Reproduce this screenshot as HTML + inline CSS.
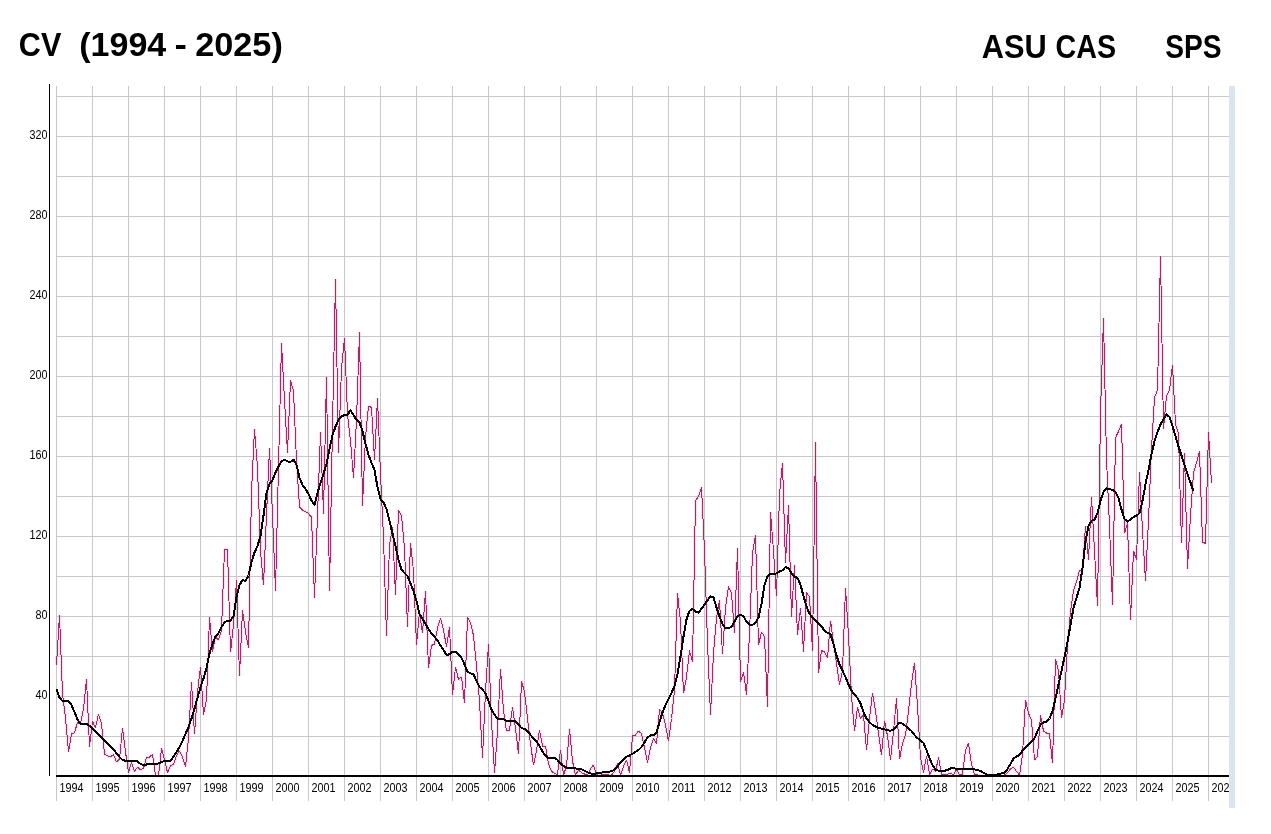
<!DOCTYPE html>
<html><head><meta charset="utf-8"><title>CV (1994 - 2025)</title>
<style>
html,body{margin:0;padding:0;background:#fff;}
body{width:1271px;height:834px;overflow:hidden;font-family:"Liberation Sans",sans-serif;}
svg{display:block;will-change:transform;}
.t{font-family:"Liberation Sans",sans-serif;font-weight:bold;fill:#000;}
.a{font-family:"Liberation Sans",sans-serif;font-size:12px;fill:#000;}
</style></head><body>
<svg width="1271" height="834" viewBox="0 0 1271 834">
<rect x="0" y="0" width="1271" height="834" fill="#ffffff"/>
<rect x="1229" y="86" width="6" height="722" fill="#dbe5f1"/>
<path d="M56.5 665.0 L59.5 615.0 L62.5 694.0 L65.5 718.0 L68.5 752.0 L71.5 734.0 L74.5 732.7 L77.5 722.5 L80.5 724.0 L83.5 709.0 L86.5 679.0 L89.5 746.5 L92.5 721.5 L95.5 727.7 L98.5 714.0 L101.5 724.0 L104.5 754.0 L107.5 755.8 L110.5 757.0 L113.5 754.3 L116.5 762.0 L119.5 759.0 L122.5 728.4 L125.5 752.0 L128.5 772.6 L131.5 762.0 L134.5 771.4 L137.5 767.0 L140.5 770.0 L143.5 768.3 L146.5 757.7 L149.5 757.0 L152.5 754.3 L155.5 775.0 L158.5 775.8 L161.5 748.3 L164.5 759.5 L167.5 772.6 L170.5 765.8 L173.5 764.5 L176.5 755.8 L179.5 750.8 L182.5 757.0 L185.5 766.4 L188.5 738.3 L191.5 681.6 L194.5 734.4 L197.5 692.0 L200.5 667.0 L203.5 714.6 L206.5 700.0 L209.5 617.3 L212.5 651.7 L215.5 636.7 L218.5 640.0 L221.5 630.0 L224.5 549.3 L227.5 549.3 L230.5 652.3 L233.5 625.0 L236.5 580.4 L239.5 676.0 L242.5 610.4 L245.5 632.0 L248.5 647.5 L251.5 492.0 L254.5 429.2 L257.5 467.5 L260.5 551.0 L263.5 585.2 L266.5 515.0 L269.5 448.5 L272.5 515.0 L275.5 590.6 L278.5 466.7 L281.5 343.0 L284.5 400.0 L287.5 452.6 L290.5 380.3 L293.5 391.0 L296.5 461.0 L299.5 506.8 L302.5 510.0 L305.5 511.8 L308.5 513.4 L311.5 517.3 L314.5 597.5 L317.5 515.0 L320.5 432.5 L323.5 513.5 L326.5 377.0 L329.5 591.2 L332.5 425.0 L335.5 278.8 L338.5 453.0 L341.5 368.0 L344.5 338.0 L347.5 414.5 L350.5 441.0 L353.5 477.5 L356.5 420.0 L359.5 332.5 L362.5 506.0 L365.5 437.0 L368.5 406.0 L371.5 407.6 L374.5 460.0 L377.5 398.5 L380.5 474.0 L383.5 537.0 L386.5 636.0 L389.5 545.0 L392.5 527.0 L395.5 595.0 L398.5 510.5 L401.5 515.6 L404.5 548.0 L407.5 627.0 L410.5 543.3 L413.5 571.0 L416.5 645.0 L419.5 612.0 L422.5 633.0 L425.5 591.4 L428.5 668.0 L431.5 645.5 L434.5 644.0 L437.5 628.0 L440.5 618.3 L443.5 630.0 L446.5 646.8 L449.5 626.6 L452.5 695.0 L455.5 667.0 L458.5 679.5 L461.5 677.0 L464.5 703.4 L467.5 617.3 L470.5 623.0 L473.5 635.5 L476.5 665.7 L479.5 701.0 L482.5 757.6 L485.5 691.0 L488.5 644.3 L491.5 721.0 L494.5 772.7 L497.5 731.0 L500.5 668.7 L503.5 711.0 L506.5 731.0 L509.5 730.0 L512.5 707.0 L515.5 728.6 L518.5 753.8 L521.5 680.8 L524.5 692.0 L527.5 718.5 L530.5 743.7 L533.5 765.0 L536.5 751.0 L539.5 730.0 L542.5 746.0 L545.5 746.0 L548.5 763.9 L551.5 771.4 L554.5 773.4 L557.5 774.5 L560.5 750.0 L563.5 775.0 L566.5 766.0 L569.5 728.6 L572.5 761.0 L575.5 775.0 L578.5 770.0 L581.5 772.7 L584.5 774.0 L587.5 775.0 L590.5 769.0 L593.5 765.0 L596.5 775.0 L599.5 773.4 L602.5 774.4 L605.5 774.4 L608.5 775.0 L611.5 775.0 L614.5 771.4 L617.5 763.3 L620.5 775.0 L623.5 766.4 L626.5 760.0 L629.5 772.7 L632.5 736.0 L635.5 735.0 L638.5 731.0 L641.5 733.6 L644.5 747.5 L647.5 762.6 L650.5 747.5 L653.5 738.4 L656.5 743.7 L659.5 709.7 L662.5 712.5 L665.5 725.0 L668.5 741.1 L671.5 718.5 L674.5 690.0 L677.5 593.2 L680.5 622.0 L683.5 693.4 L686.5 677.0 L689.5 650.6 L692.5 662.0 L695.5 500.4 L698.5 496.6 L701.5 487.3 L704.5 550.0 L707.5 643.0 L710.5 714.5 L713.5 653.0 L716.5 618.0 L719.5 600.5 L722.5 654.3 L725.5 607.8 L728.5 586.6 L731.5 593.5 L734.5 633.0 L737.5 547.8 L740.5 682.0 L743.5 672.0 L746.5 694.6 L749.5 633.0 L752.5 553.3 L755.5 535.2 L758.5 645.0 L761.5 632.0 L764.5 636.5 L767.5 707.2 L770.5 511.8 L773.5 550.8 L776.5 596.0 L779.5 494.0 L782.5 462.7 L785.5 563.0 L788.5 505.0 L791.5 617.0 L794.5 564.6 L797.5 635.0 L800.5 608.2 L803.5 651.5 L806.5 592.5 L809.5 597.0 L812.5 650.6 L815.5 442.5 L818.5 673.2 L821.5 650.6 L824.5 651.8 L827.5 658.0 L830.5 620.6 L833.5 643.0 L836.5 663.0 L839.5 684.6 L842.5 670.7 L845.5 588.2 L848.5 635.5 L851.5 696.0 L854.5 731.0 L857.5 707.2 L860.5 718.5 L863.5 714.8 L866.5 750.0 L869.5 718.5 L872.5 693.4 L875.5 711.0 L878.5 733.6 L881.5 755.0 L884.5 720.6 L887.5 736.0 L890.5 760.0 L893.5 731.0 L896.5 698.4 L899.5 759.3 L902.5 743.7 L905.5 735.0 L908.5 711.0 L911.5 683.3 L914.5 662.6 L917.5 706.0 L920.5 757.6 L923.5 772.7 L926.5 756.3 L929.5 774.4 L932.5 769.0 L935.5 771.4 L938.5 757.6 L941.5 774.0 L944.5 775.0 L947.5 774.4 L950.5 773.0 L953.5 775.0 L956.5 769.5 L959.5 775.0 L962.5 774.0 L965.5 750.5 L968.5 743.0 L971.5 764.0 L974.5 774.4 L977.5 775.0 L980.5 775.0 L983.5 775.0 L986.5 775.0 L989.5 775.0 L992.5 775.0 L995.5 775.0 L998.5 775.0 L1001.5 775.0 L1004.5 775.0 L1007.5 772.7 L1010.5 769.0 L1013.5 767.0 L1016.5 771.4 L1019.5 775.0 L1022.5 755.0 L1025.5 699.7 L1028.5 713.5 L1031.5 720.0 L1034.5 760.0 L1037.5 756.3 L1040.5 715.5 L1043.5 731.0 L1046.5 733.0 L1049.5 733.6 L1052.5 763.4 L1055.5 659.4 L1058.5 670.7 L1061.5 718.0 L1064.5 699.7 L1067.5 645.5 L1070.5 612.0 L1073.5 591.0 L1076.5 581.5 L1079.5 570.6 L1082.5 571.0 L1085.5 525.8 L1088.5 560.0 L1091.5 496.8 L1094.5 551.0 L1097.5 606.4 L1100.5 412.0 L1103.5 318.0 L1106.5 459.0 L1109.5 525.8 L1112.5 605.1 L1115.5 438.0 L1118.5 431.3 L1121.5 424.0 L1124.5 533.4 L1127.5 523.3 L1130.5 620.3 L1133.5 551.0 L1136.5 559.8 L1139.5 471.6 L1142.5 530.8 L1145.5 581.2 L1148.5 520.0 L1151.5 449.0 L1154.5 397.4 L1157.5 390.0 L1160.5 256.4 L1163.5 429.0 L1166.5 396.0 L1169.5 390.0 L1172.5 364.7 L1175.5 424.0 L1178.5 434.0 L1181.5 543.4 L1184.5 452.7 L1187.5 568.6 L1190.5 515.7 L1193.5 472.9 L1196.5 462.8 L1199.5 451.5 L1202.5 542.2 L1205.5 543.4 L1208.5 432.0 L1211.5 483.0" stroke="#ffdcee" stroke-width="3" fill="none" stroke-linejoin="bevel" shape-rendering="crispEdges"/>
<path d="M56.5 86V801M92.5 86V801M128.5 86V801M164.5 86V801M200.5 86V801M236.5 86V801M272.5 86V801M308.5 86V801M344.5 86V801M380.5 86V801M416.5 86V801M452.5 86V801M488.5 86V801M524.5 86V801M560.5 86V801M596.5 86V801M632.5 86V801M668.5 86V801M704.5 86V801M740.5 86V801M776.5 86V801M812.5 86V801M848.5 86V801M884.5 86V801M920.5 86V801M956.5 86V801M992.5 86V801M1028.5 86V801M1064.5 86V801M1100.5 86V801M1136.5 86V801M1172.5 86V801M1208.5 86V801M56 96.5H1229M56 136.5H1229M56 176.5H1229M56 216.5H1229M56 256.5H1229M56 296.5H1229M56 336.5H1229M56 376.5H1229M56 416.5H1229M56 456.5H1229M56 496.5H1229M56 536.5H1229M56 576.5H1229M56 616.5H1229M56 656.5H1229M56 696.5H1229M56 736.5H1229" stroke="#c8c8c8" stroke-width="1" fill="none" shape-rendering="crispEdges"/>
<path d="M56.5 665.0 L59.5 615.0 L62.5 694.0 L65.5 718.0 L68.5 752.0 L71.5 734.0 L74.5 732.7 L77.5 722.5 L80.5 724.0 L83.5 709.0 L86.5 679.0 L89.5 746.5 L92.5 721.5 L95.5 727.7 L98.5 714.0 L101.5 724.0 L104.5 754.0 L107.5 755.8 L110.5 757.0 L113.5 754.3 L116.5 762.0 L119.5 759.0 L122.5 728.4 L125.5 752.0 L128.5 772.6 L131.5 762.0 L134.5 771.4 L137.5 767.0 L140.5 770.0 L143.5 768.3 L146.5 757.7 L149.5 757.0 L152.5 754.3 L155.5 775.0 L158.5 775.8 L161.5 748.3 L164.5 759.5 L167.5 772.6 L170.5 765.8 L173.5 764.5 L176.5 755.8 L179.5 750.8 L182.5 757.0 L185.5 766.4 L188.5 738.3 L191.5 681.6 L194.5 734.4 L197.5 692.0 L200.5 667.0 L203.5 714.6 L206.5 700.0 L209.5 617.3 L212.5 651.7 L215.5 636.7 L218.5 640.0 L221.5 630.0 L224.5 549.3 L227.5 549.3 L230.5 652.3 L233.5 625.0 L236.5 580.4 L239.5 676.0 L242.5 610.4 L245.5 632.0 L248.5 647.5 L251.5 492.0 L254.5 429.2 L257.5 467.5 L260.5 551.0 L263.5 585.2 L266.5 515.0 L269.5 448.5 L272.5 515.0 L275.5 590.6 L278.5 466.7 L281.5 343.0 L284.5 400.0 L287.5 452.6 L290.5 380.3 L293.5 391.0 L296.5 461.0 L299.5 506.8 L302.5 510.0 L305.5 511.8 L308.5 513.4 L311.5 517.3 L314.5 597.5 L317.5 515.0 L320.5 432.5 L323.5 513.5 L326.5 377.0 L329.5 591.2 L332.5 425.0 L335.5 278.8 L338.5 453.0 L341.5 368.0 L344.5 338.0 L347.5 414.5 L350.5 441.0 L353.5 477.5 L356.5 420.0 L359.5 332.5 L362.5 506.0 L365.5 437.0 L368.5 406.0 L371.5 407.6 L374.5 460.0 L377.5 398.5 L380.5 474.0 L383.5 537.0 L386.5 636.0 L389.5 545.0 L392.5 527.0 L395.5 595.0 L398.5 510.5 L401.5 515.6 L404.5 548.0 L407.5 627.0 L410.5 543.3 L413.5 571.0 L416.5 645.0 L419.5 612.0 L422.5 633.0 L425.5 591.4 L428.5 668.0 L431.5 645.5 L434.5 644.0 L437.5 628.0 L440.5 618.3 L443.5 630.0 L446.5 646.8 L449.5 626.6 L452.5 695.0 L455.5 667.0 L458.5 679.5 L461.5 677.0 L464.5 703.4 L467.5 617.3 L470.5 623.0 L473.5 635.5 L476.5 665.7 L479.5 701.0 L482.5 757.6 L485.5 691.0 L488.5 644.3 L491.5 721.0 L494.5 772.7 L497.5 731.0 L500.5 668.7 L503.5 711.0 L506.5 731.0 L509.5 730.0 L512.5 707.0 L515.5 728.6 L518.5 753.8 L521.5 680.8 L524.5 692.0 L527.5 718.5 L530.5 743.7 L533.5 765.0 L536.5 751.0 L539.5 730.0 L542.5 746.0 L545.5 746.0 L548.5 763.9 L551.5 771.4 L554.5 773.4 L557.5 774.5 L560.5 750.0 L563.5 775.0 L566.5 766.0 L569.5 728.6 L572.5 761.0 L575.5 775.0 L578.5 770.0 L581.5 772.7 L584.5 774.0 L587.5 775.0 L590.5 769.0 L593.5 765.0 L596.5 775.0 L599.5 773.4 L602.5 774.4 L605.5 774.4 L608.5 775.0 L611.5 775.0 L614.5 771.4 L617.5 763.3 L620.5 775.0 L623.5 766.4 L626.5 760.0 L629.5 772.7 L632.5 736.0 L635.5 735.0 L638.5 731.0 L641.5 733.6 L644.5 747.5 L647.5 762.6 L650.5 747.5 L653.5 738.4 L656.5 743.7 L659.5 709.7 L662.5 712.5 L665.5 725.0 L668.5 741.1 L671.5 718.5 L674.5 690.0 L677.5 593.2 L680.5 622.0 L683.5 693.4 L686.5 677.0 L689.5 650.6 L692.5 662.0 L695.5 500.4 L698.5 496.6 L701.5 487.3 L704.5 550.0 L707.5 643.0 L710.5 714.5 L713.5 653.0 L716.5 618.0 L719.5 600.5 L722.5 654.3 L725.5 607.8 L728.5 586.6 L731.5 593.5 L734.5 633.0 L737.5 547.8 L740.5 682.0 L743.5 672.0 L746.5 694.6 L749.5 633.0 L752.5 553.3 L755.5 535.2 L758.5 645.0 L761.5 632.0 L764.5 636.5 L767.5 707.2 L770.5 511.8 L773.5 550.8 L776.5 596.0 L779.5 494.0 L782.5 462.7 L785.5 563.0 L788.5 505.0 L791.5 617.0 L794.5 564.6 L797.5 635.0 L800.5 608.2 L803.5 651.5 L806.5 592.5 L809.5 597.0 L812.5 650.6 L815.5 442.5 L818.5 673.2 L821.5 650.6 L824.5 651.8 L827.5 658.0 L830.5 620.6 L833.5 643.0 L836.5 663.0 L839.5 684.6 L842.5 670.7 L845.5 588.2 L848.5 635.5 L851.5 696.0 L854.5 731.0 L857.5 707.2 L860.5 718.5 L863.5 714.8 L866.5 750.0 L869.5 718.5 L872.5 693.4 L875.5 711.0 L878.5 733.6 L881.5 755.0 L884.5 720.6 L887.5 736.0 L890.5 760.0 L893.5 731.0 L896.5 698.4 L899.5 759.3 L902.5 743.7 L905.5 735.0 L908.5 711.0 L911.5 683.3 L914.5 662.6 L917.5 706.0 L920.5 757.6 L923.5 772.7 L926.5 756.3 L929.5 774.4 L932.5 769.0 L935.5 771.4 L938.5 757.6 L941.5 774.0 L944.5 775.0 L947.5 774.4 L950.5 773.0 L953.5 775.0 L956.5 769.5 L959.5 775.0 L962.5 774.0 L965.5 750.5 L968.5 743.0 L971.5 764.0 L974.5 774.4 L977.5 775.0 L980.5 775.0 L983.5 775.0 L986.5 775.0 L989.5 775.0 L992.5 775.0 L995.5 775.0 L998.5 775.0 L1001.5 775.0 L1004.5 775.0 L1007.5 772.7 L1010.5 769.0 L1013.5 767.0 L1016.5 771.4 L1019.5 775.0 L1022.5 755.0 L1025.5 699.7 L1028.5 713.5 L1031.5 720.0 L1034.5 760.0 L1037.5 756.3 L1040.5 715.5 L1043.5 731.0 L1046.5 733.0 L1049.5 733.6 L1052.5 763.4 L1055.5 659.4 L1058.5 670.7 L1061.5 718.0 L1064.5 699.7 L1067.5 645.5 L1070.5 612.0 L1073.5 591.0 L1076.5 581.5 L1079.5 570.6 L1082.5 571.0 L1085.5 525.8 L1088.5 560.0 L1091.5 496.8 L1094.5 551.0 L1097.5 606.4 L1100.5 412.0 L1103.5 318.0 L1106.5 459.0 L1109.5 525.8 L1112.5 605.1 L1115.5 438.0 L1118.5 431.3 L1121.5 424.0 L1124.5 533.4 L1127.5 523.3 L1130.5 620.3 L1133.5 551.0 L1136.5 559.8 L1139.5 471.6 L1142.5 530.8 L1145.5 581.2 L1148.5 520.0 L1151.5 449.0 L1154.5 397.4 L1157.5 390.0 L1160.5 256.4 L1163.5 429.0 L1166.5 396.0 L1169.5 390.0 L1172.5 364.7 L1175.5 424.0 L1178.5 434.0 L1181.5 543.4 L1184.5 452.7 L1187.5 568.6 L1190.5 515.7 L1193.5 472.9 L1196.5 462.8 L1199.5 451.5 L1202.5 542.2 L1205.5 543.4 L1208.5 432.0 L1211.5 483.0" stroke="#a32c66" stroke-width="1" fill="none" stroke-linejoin="bevel" shape-rendering="crispEdges"/>
<path d="M56.5 689.0 L59.5 697.8 L62.5 701.0 L65.5 701.0 L68.5 701.5 L71.5 705.0 L74.5 712.0 L77.5 719.6 L80.5 723.8 L83.5 723.8 L86.5 724.0 L89.5 725.9 L92.5 728.4 L95.5 731.5 L98.5 734.6 L101.5 737.7 L104.5 740.8 L107.5 743.3 L110.5 746.4 L113.5 749.6 L116.5 753.3 L119.5 757.0 L122.5 760.0 L125.5 760.8 L128.5 760.8 L131.5 760.8 L134.5 760.8 L137.5 761.4 L140.5 763.9 L143.5 765.2 L146.5 764.5 L149.5 764.2 L152.5 764.2 L155.5 764.2 L158.5 763.3 L161.5 762.0 L164.5 761.2 L167.5 761.0 L170.5 760.8 L173.5 756.4 L176.5 752.0 L179.5 747.0 L182.5 740.8 L185.5 734.0 L188.5 727.0 L191.5 718.4 L194.5 708.4 L197.5 697.8 L200.5 687.2 L203.5 678.5 L206.5 668.0 L209.5 653.5 L212.5 644.0 L215.5 636.7 L218.5 633.0 L221.5 627.0 L224.5 622.4 L227.5 620.5 L230.5 620.5 L233.5 616.4 L236.5 597.0 L239.5 585.0 L242.5 580.0 L245.5 581.0 L248.5 575.5 L251.5 562.0 L254.5 552.5 L257.5 546.0 L260.5 535.7 L263.5 515.6 L266.5 493.0 L269.5 484.0 L272.5 480.0 L275.5 472.7 L278.5 466.4 L281.5 461.4 L284.5 459.6 L287.5 461.4 L290.5 462.0 L293.5 459.6 L296.5 465.0 L299.5 477.8 L302.5 485.0 L305.5 489.0 L308.5 494.0 L311.5 500.5 L314.5 505.0 L317.5 493.0 L320.5 482.8 L323.5 474.0 L326.5 464.0 L329.5 449.0 L332.5 435.0 L335.5 426.7 L338.5 419.9 L341.5 416.0 L344.5 415.3 L347.5 414.8 L350.5 410.3 L353.5 414.8 L356.5 419.9 L359.5 422.4 L362.5 431.2 L365.5 443.8 L368.5 455.0 L371.5 462.7 L374.5 470.0 L377.5 487.0 L380.5 499.0 L383.5 502.5 L386.5 509.0 L389.5 521.0 L392.5 533.6 L395.5 546.0 L398.5 559.8 L401.5 569.8 L404.5 573.0 L407.5 576.0 L410.5 583.5 L413.5 591.0 L416.5 601.0 L419.5 614.0 L422.5 619.0 L425.5 624.0 L428.5 629.0 L431.5 633.4 L434.5 636.7 L437.5 640.5 L440.5 645.5 L443.5 650.0 L446.5 655.0 L449.5 654.3 L452.5 651.8 L455.5 651.8 L458.5 654.3 L461.5 658.0 L464.5 664.4 L467.5 672.0 L470.5 673.2 L473.5 674.5 L476.5 680.8 L479.5 687.0 L482.5 689.6 L485.5 693.4 L488.5 701.0 L491.5 709.7 L494.5 714.8 L497.5 718.5 L500.5 719.0 L503.5 719.3 L506.5 720.6 L509.5 721.0 L512.5 720.6 L515.5 721.0 L518.5 724.8 L521.5 728.0 L524.5 729.0 L527.5 731.0 L530.5 735.0 L533.5 738.2 L536.5 741.2 L539.5 746.2 L542.5 751.3 L545.5 755.8 L548.5 758.3 L551.5 758.3 L554.5 757.6 L557.5 760.0 L560.5 763.4 L563.5 765.9 L566.5 767.6 L569.5 767.6 L572.5 767.6 L575.5 768.4 L578.5 768.9 L581.5 769.4 L584.5 770.7 L587.5 772.2 L590.5 773.4 L593.5 774.0 L596.5 773.4 L599.5 773.0 L602.5 772.4 L605.5 772.0 L608.5 771.7 L611.5 771.4 L614.5 769.6 L617.5 766.4 L620.5 762.6 L623.5 759.3 L626.5 756.8 L629.5 755.5 L632.5 753.8 L635.5 751.8 L638.5 750.0 L641.5 747.0 L644.5 742.5 L647.5 737.4 L650.5 735.5 L653.5 735.0 L656.5 733.0 L659.5 722.0 L662.5 712.5 L665.5 705.0 L668.5 699.0 L671.5 693.0 L674.5 686.0 L677.5 674.0 L680.5 656.5 L683.5 636.5 L686.5 619.5 L689.5 610.7 L692.5 609.0 L695.5 611.5 L698.5 612.6 L701.5 608.8 L704.5 604.5 L707.5 600.5 L710.5 596.5 L713.5 597.2 L716.5 607.6 L719.5 616.4 L722.5 624.0 L725.5 628.4 L728.5 628.4 L731.5 626.7 L734.5 621.5 L737.5 616.4 L740.5 614.6 L743.5 616.4 L746.5 621.5 L749.5 625.0 L752.5 625.0 L755.5 622.5 L758.5 617.6 L761.5 603.8 L764.5 585.0 L767.5 576.2 L770.5 574.0 L773.5 574.0 L776.5 573.4 L779.5 571.4 L782.5 570.4 L785.5 567.0 L788.5 568.4 L791.5 573.4 L794.5 576.5 L797.5 578.0 L800.5 584.7 L803.5 596.2 L806.5 606.3 L809.5 613.8 L812.5 617.6 L815.5 620.8 L818.5 623.3 L821.5 626.4 L824.5 630.6 L827.5 633.0 L830.5 634.0 L833.5 644.2 L836.5 655.6 L839.5 664.4 L842.5 670.7 L845.5 677.0 L848.5 684.6 L851.5 690.8 L854.5 694.6 L857.5 698.0 L860.5 703.4 L863.5 712.2 L866.5 718.5 L869.5 722.3 L872.5 724.8 L875.5 726.6 L878.5 728.0 L881.5 728.6 L884.5 729.4 L887.5 730.4 L890.5 730.6 L893.5 729.9 L896.5 726.0 L899.5 722.8 L902.5 723.6 L905.5 726.0 L908.5 728.6 L911.5 731.0 L914.5 735.0 L917.5 738.2 L920.5 740.5 L923.5 743.0 L926.5 750.0 L929.5 758.0 L932.5 765.0 L935.5 769.5 L938.5 770.7 L941.5 770.7 L944.5 770.7 L947.5 770.1 L950.5 768.5 L953.5 768.2 L956.5 768.9 L959.5 768.9 L962.5 768.9 L965.5 768.9 L968.5 768.9 L971.5 768.9 L974.5 769.4 L977.5 770.2 L980.5 771.0 L983.5 772.7 L986.5 774.4 L989.5 775.4 L992.5 775.4 L995.5 775.0 L998.5 774.0 L1001.5 773.4 L1004.5 772.7 L1007.5 768.9 L1010.5 763.9 L1013.5 758.8 L1016.5 756.3 L1019.5 755.0 L1022.5 750.8 L1025.5 747.5 L1028.5 744.2 L1031.5 741.2 L1034.5 738.2 L1037.5 731.0 L1040.5 724.8 L1043.5 722.3 L1046.5 721.6 L1049.5 718.5 L1052.5 711.0 L1055.5 698.4 L1058.5 684.6 L1061.5 670.7 L1064.5 656.9 L1067.5 641.8 L1070.5 625.0 L1073.5 608.0 L1076.5 598.0 L1079.5 588.0 L1082.5 568.0 L1085.5 541.0 L1088.5 525.8 L1091.5 520.8 L1094.5 519.5 L1097.5 513.2 L1100.5 500.6 L1103.5 491.8 L1106.5 488.5 L1109.5 488.8 L1112.5 490.0 L1115.5 491.8 L1118.5 498.0 L1121.5 509.4 L1124.5 519.0 L1127.5 521.5 L1130.5 519.5 L1133.5 517.0 L1136.5 515.7 L1139.5 513.2 L1142.5 500.6 L1145.5 484.2 L1148.5 470.0 L1151.5 454.0 L1154.5 441.3 L1157.5 432.0 L1160.5 424.6 L1163.5 419.0 L1166.5 414.5 L1169.5 417.0 L1172.5 426.2 L1175.5 436.3 L1178.5 446.4 L1181.5 455.6 L1184.5 464.8 L1187.5 474.0 L1190.5 482.5 L1193.5 491.2" stroke="#000" stroke-width="2" fill="none" stroke-linejoin="round" shape-rendering="crispEdges"/>
<rect x="49" y="84" width="1" height="692" fill="#000"/>
<rect x="56" y="775" width="1173" height="2" fill="#000"/>
<text class="a" x="47.5" y="699.0" text-anchor="end" textLength="12" lengthAdjust="spacingAndGlyphs">40</text>
<text class="a" x="47.5" y="619.0" text-anchor="end" textLength="12" lengthAdjust="spacingAndGlyphs">80</text>
<text class="a" x="47.5" y="539.0" text-anchor="end" textLength="18" lengthAdjust="spacingAndGlyphs">120</text>
<text class="a" x="47.5" y="459.0" text-anchor="end" textLength="18" lengthAdjust="spacingAndGlyphs">160</text>
<text class="a" x="47.5" y="379.0" text-anchor="end" textLength="18" lengthAdjust="spacingAndGlyphs">200</text>
<text class="a" x="47.5" y="299.0" text-anchor="end" textLength="18" lengthAdjust="spacingAndGlyphs">240</text>
<text class="a" x="47.5" y="219.0" text-anchor="end" textLength="18" lengthAdjust="spacingAndGlyphs">280</text>
<text class="a" x="47.5" y="139.0" text-anchor="end" textLength="18" lengthAdjust="spacingAndGlyphs">320</text>
<text class="a" x="59.5" y="792" textLength="24" lengthAdjust="spacingAndGlyphs">1994</text>
<text class="a" x="95.5" y="792" textLength="24" lengthAdjust="spacingAndGlyphs">1995</text>
<text class="a" x="131.5" y="792" textLength="24" lengthAdjust="spacingAndGlyphs">1996</text>
<text class="a" x="167.5" y="792" textLength="24" lengthAdjust="spacingAndGlyphs">1997</text>
<text class="a" x="203.5" y="792" textLength="24" lengthAdjust="spacingAndGlyphs">1998</text>
<text class="a" x="239.5" y="792" textLength="24" lengthAdjust="spacingAndGlyphs">1999</text>
<text class="a" x="275.5" y="792" textLength="24" lengthAdjust="spacingAndGlyphs">2000</text>
<text class="a" x="311.5" y="792" textLength="24" lengthAdjust="spacingAndGlyphs">2001</text>
<text class="a" x="347.5" y="792" textLength="24" lengthAdjust="spacingAndGlyphs">2002</text>
<text class="a" x="383.5" y="792" textLength="24" lengthAdjust="spacingAndGlyphs">2003</text>
<text class="a" x="419.5" y="792" textLength="24" lengthAdjust="spacingAndGlyphs">2004</text>
<text class="a" x="455.5" y="792" textLength="24" lengthAdjust="spacingAndGlyphs">2005</text>
<text class="a" x="491.5" y="792" textLength="24" lengthAdjust="spacingAndGlyphs">2006</text>
<text class="a" x="527.5" y="792" textLength="24" lengthAdjust="spacingAndGlyphs">2007</text>
<text class="a" x="563.5" y="792" textLength="24" lengthAdjust="spacingAndGlyphs">2008</text>
<text class="a" x="599.5" y="792" textLength="24" lengthAdjust="spacingAndGlyphs">2009</text>
<text class="a" x="635.5" y="792" textLength="24" lengthAdjust="spacingAndGlyphs">2010</text>
<text class="a" x="671.5" y="792" textLength="24" lengthAdjust="spacingAndGlyphs">2011</text>
<text class="a" x="707.5" y="792" textLength="24" lengthAdjust="spacingAndGlyphs">2012</text>
<text class="a" x="743.5" y="792" textLength="24" lengthAdjust="spacingAndGlyphs">2013</text>
<text class="a" x="779.5" y="792" textLength="24" lengthAdjust="spacingAndGlyphs">2014</text>
<text class="a" x="815.5" y="792" textLength="24" lengthAdjust="spacingAndGlyphs">2015</text>
<text class="a" x="851.5" y="792" textLength="24" lengthAdjust="spacingAndGlyphs">2016</text>
<text class="a" x="887.5" y="792" textLength="24" lengthAdjust="spacingAndGlyphs">2017</text>
<text class="a" x="923.5" y="792" textLength="24" lengthAdjust="spacingAndGlyphs">2018</text>
<text class="a" x="959.5" y="792" textLength="24" lengthAdjust="spacingAndGlyphs">2019</text>
<text class="a" x="995.5" y="792" textLength="24" lengthAdjust="spacingAndGlyphs">2020</text>
<text class="a" x="1031.5" y="792" textLength="24" lengthAdjust="spacingAndGlyphs">2021</text>
<text class="a" x="1067.5" y="792" textLength="24" lengthAdjust="spacingAndGlyphs">2022</text>
<text class="a" x="1103.5" y="792" textLength="24" lengthAdjust="spacingAndGlyphs">2023</text>
<text class="a" x="1139.5" y="792" textLength="24" lengthAdjust="spacingAndGlyphs">2024</text>
<text class="a" x="1175.5" y="792" textLength="24" lengthAdjust="spacingAndGlyphs">2025</text>
<text class="a" x="1211.5" y="792" textLength="18" lengthAdjust="spacingAndGlyphs">202</text>
<text class="t" x="18.8" y="56" font-size="33" textLength="42.5" lengthAdjust="spacingAndGlyphs">CV</text>
<text class="t" x="79.3" y="56" font-size="33" textLength="87" lengthAdjust="spacingAndGlyphs">(1994</text>
<text class="t" x="174.6" y="56" font-size="33" textLength="12.4" lengthAdjust="spacingAndGlyphs">-</text>
<text class="t" x="195.2" y="56" font-size="33" textLength="87.6" lengthAdjust="spacingAndGlyphs">2025)</text>
<text class="t" x="981.8" y="57.5" font-size="33" textLength="65" lengthAdjust="spacingAndGlyphs">ASU</text>
<text class="t" x="1055.6" y="57.5" font-size="33" textLength="60.5" lengthAdjust="spacingAndGlyphs">CAS</text>
<text class="t" x="1165.2" y="57.5" font-size="33" textLength="56.4" lengthAdjust="spacingAndGlyphs">SPS</text>
</svg></body></html>
